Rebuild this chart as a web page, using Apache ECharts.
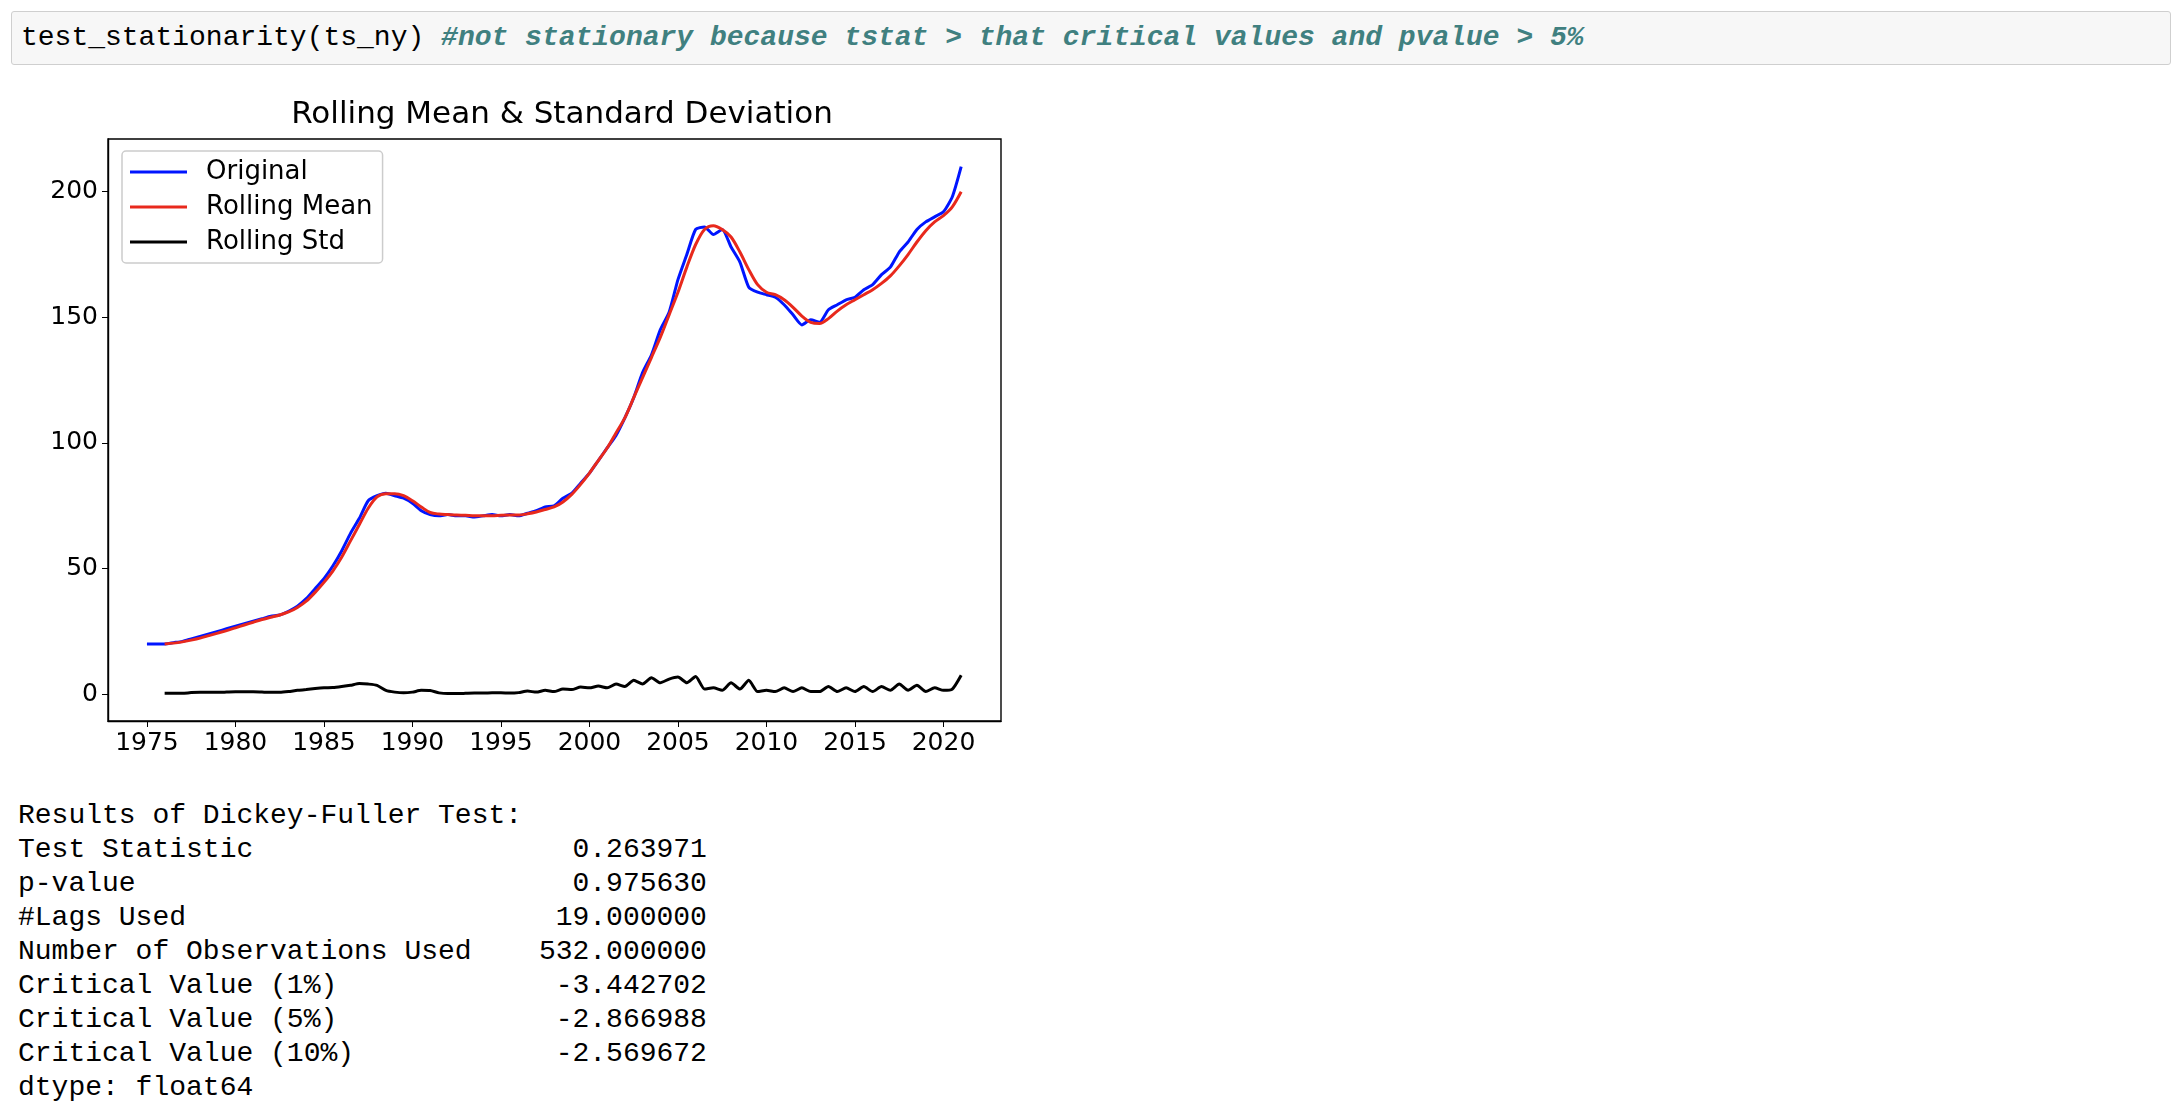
<!DOCTYPE html>
<html><head><meta charset="utf-8">
<script src="https://cdn.jsdelivr.net/npm/echarts@6/dist/echarts.min.js"></script>
<style>
body{margin:0;background:#fff;width:2180px;height:1118px;position:relative;overflow:hidden}
#code{position:absolute;left:11px;top:11px;width:2160px;height:54px;background:#f7f7f7;border:1px solid #cfcfcf;border-radius:3px;box-sizing:border-box;font:28px "Liberation Mono",monospace;line-height:52px;padding-left:9px;white-space:pre}
#code i{color:#408080;font-weight:bold}
#echart{position:absolute;left:0;top:70px;width:1100px;height:720px}
#res{position:absolute;left:18px;top:799px;font:28px "Liberation Mono",monospace;line-height:34px;white-space:pre;margin:0}
</style></head><body>
<div id="code">test_stationarity(ts_ny) <i>#not stationary because tstat &gt; that critical values and pvalue &gt; 5%</i></div>
<div id="echart"></div>
<pre id="res">Results of Dickey-Fuller Test:
Test Statistic                   0.263971
p-value                          0.975630
#Lags Used                      19.000000
Number of Observations Used    532.000000
Critical Value (1%)             -3.442702
Critical Value (5%)             -2.866988
Critical Value (10%)            -2.569672
dtype: float64</pre>
<script>
// half-year samples
var original = [20,20,20,20.5,21,22,23,24,25,26,27,28,29,30,31,31.5,33,35,38,42,46,51,57,64,70,77,79,80,79,78,76,73,71.5,71,71.5,71,71,70.5,71,71.5,71,71.5,71,72,73,74.5,75,78,80,84,88,93,98,103,110,118,128,135,145,152,165,175,185,186,183,185,178,172,162,160,159,158,155,151,147,149,148,153,155,157,158,161,163,167,170,176,180,185,188,190,192,198,210];
var rollMean = [20,20.3,20.8,21.5,22.3,23.3,24.3,25.3,26.4,27.5,28.6,29.7,30.6,31.5,32.7,34.5,37,40.5,44.5,49,54.5,61,67.5,74,78.5,79.8,79.8,79,77,74.5,72.3,71.7,71.5,71.3,71.2,71,71,71,71.2,71.3,71.3,71.8,72.5,73.5,74.5,76.5,79.5,83.5,88,93,98,104,110,118,126,134,142,151,160,170,179,185,186.5,185,182,176,169,163,160,159,157,154,150.5,148,147.5,149.5,152.5,155,157,159,161,163.5,166.5,170.5,175,180,184.5,188,190.5,194,200];
var rollStd = [0.3,0.3,0.3,0.6,0.7,0.7,0.7,0.8,0.9,0.9,0.9,0.8,0.7,0.7,1,1.5,1.8,2.2,2.5,2.6,3,3.5,4.2,4,3.5,1.5,0.8,0.5,0.8,1.5,1.4,0.5,0.2,0.2,0.3,0.4,0.4,0.5,0.5,0.4,0.6,1.2,0.8,1.5,1,2,1.8,2.8,2.5,3.2,2.5,4,3,5.5,4,6.5,4.5,6,6.8,4.5,7,2,2.5,1.5,4.5,2,5.5,1,1.5,1,2.5,1,2.5,1,1,3,1,2.5,1,3,1,3,1.5,4,1.5,3.5,1,2.5,1.5,2,7.5];
var xTicks = [1975,1980,1985,1990,1995,2000,2005,2010,2015,2020];
var yTicks = [0,50,100,150,200];

function pairs(arr, start) {
  return arr.map(function (v, i) { return [start + i * 0.5, v]; });
}

var myChart = echarts.init(document.getElementById('echart'));
var font = 'DejaVu Sans';
var option = {
  animation: false,
  title: {text: 'Rolling Mean & Standard Deviation', left: 557, top: 24, textAlign: 'center',
    textStyle: {fontFamily: font, fontWeight: 'normal', fontSize: 31, color: '#000'}},
  legend: {
    data: ['Original', 'Rolling Mean', 'Rolling Std'],
    orient: 'vertical', left: 122, top: 81, itemWidth: 57, itemHeight: 3, itemGap: 9,
    textStyle: {fontFamily: font, fontSize: 26, color: '#000', padding: [0, 0, 0, 14]},
    backgroundColor: '#fff', borderColor: '#ccc', borderWidth: 1.5, borderRadius: 4,
    padding: [8, 10, 8, 8], icon: 'rect'
  },
  grid: {left: 108, top: 69, width: 893, height: 582, show: true, borderColor: '#000', borderWidth: 1.4},
  xAxis: {
    type: 'value', min: 1972.8, max: 2023.25,
    axisLine: {show: true, onZero: false, lineStyle: {color: '#000', width: 1.4}},
    axisTick: {show: true, customValues: xTicks, length: 6, lineStyle: {color: '#000'}},
    axisLabel: {customValues: xTicks, fontFamily: font, fontSize: 25, color: '#000', margin: 10,
      formatter: function (v) { return String(v); }},
    splitLine: {show: false}
  },
  yAxis: {
    type: 'value', min: -10.7, max: 221,
    axisLine: {show: true, onZero: false, lineStyle: {color: '#000', width: 1.4}},
    axisTick: {show: true, customValues: yTicks, length: 6, lineStyle: {color: '#000'}},
    axisLabel: {customValues: yTicks, fontFamily: font, fontSize: 25, color: '#000', margin: 10},
    splitLine: {show: false}
  },
  series: [
    {name: 'Original', type: 'line', data: pairs(original, 1975), showSymbol: false, smooth: 0.2,
      lineStyle: {color: '#0015ff', width: 3}, itemStyle: {color: '#0015ff'}},
    {name: 'Rolling Mean', type: 'line', data: pairs(rollMean, 1976), showSymbol: false, smooth: 0.3,
      lineStyle: {color: '#e8291c', width: 3}, itemStyle: {color: '#e8291c'}},
    {name: 'Rolling Std', type: 'line', data: pairs(rollStd, 1976), showSymbol: false, smooth: 0.2,
      lineStyle: {color: '#000', width: 3}, itemStyle: {color: '#000'}}
  ]
};
myChart.setOption(option);
window.onresize = myChart.resize;
</script>
</body></html>
